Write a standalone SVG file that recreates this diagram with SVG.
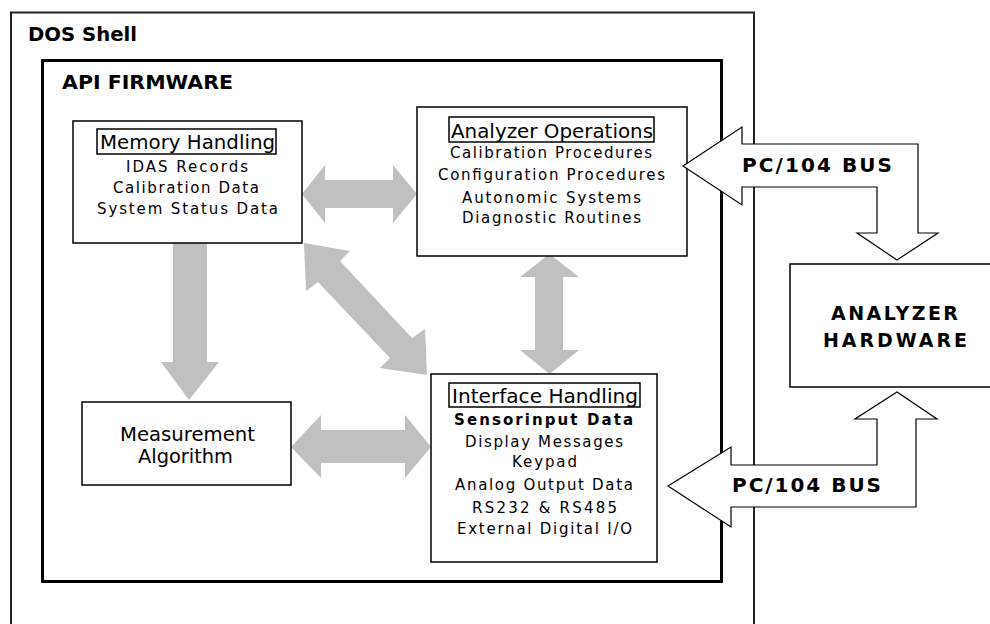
<svg xmlns="http://www.w3.org/2000/svg" width="990" height="624" viewBox="0 0 990 624">
<style>
.box{fill:#fff;stroke:#000;stroke-width:1.5}
.t{font-family:"DejaVu Sans",Verdana,sans-serif;fill:#000;text-anchor:start}
.s{font-size:15px}
.h{font-size:20px}
.b{font-weight:bold}
.g{fill:#c0c0c0;stroke:none}
.bus{fill:#fff;stroke:#000;stroke-width:1.2}
</style>
<rect width="990" height="624" fill="#fff"/>
<g id="dos-shell">
<rect x="11" y="12.5" width="743" height="700" fill="#fff" stroke="#222" stroke-width="2"/>
<text class="t b" x="28" y="41" font-size="20" textLength="109" lengthAdjust="spacingAndGlyphs">DOS Shell</text>
</g>
<g id="api-firmware">
<rect x="42.5" y="60.5" width="679" height="521" fill="#fff" stroke="#000" stroke-width="3"/>
<text class="t b" x="62" y="89" font-size="19" textLength="171" lengthAdjust="spacingAndGlyphs">API FIRMWARE</text>
</g>
<g id="connectors">
<polygon class="g" points="302,194 325,165 325,180 393,180 393,165 417,194 393,223 393,208 325,208 325,223"/>
<polygon class="g" points="291,447 321,415 321,430 405,430 405,415 431,447 405,478 405,463 321,463 321,478"/>
<polygon class="g" points="173,243 207,243 207,362 219,362 189,400 161,362 173,362"/>
<polygon class="g" points="549.5,254 579,277 563,277 563,350 579,350 549.5,374 520,350 535,350 535,277 520,277"/>
<polygon class="g" points="304,243 350,251 340,261 412,338 425,329 427,375 380,368 390,358 318,282 306,291"/>
</g>
<g id="memory-handling">
<rect class="box" x="73" y="121" width="229" height="122"/>
<rect x="97" y="129" width="179" height="25" fill="none" stroke="#000" stroke-width="1.5"/>
<text class="t" x="100" y="149" font-size="20" textLength="175" lengthAdjust="spacingAndGlyphs">Memory Handling</text>
<text class="t s" x="126" y="172" textLength="122">IDAS Records</text>
<text class="t s" x="113" y="193" textLength="146">Calibration Data</text>
<text class="t s" x="97" y="214" textLength="181">System Status Data</text>
</g>
<g id="analyzer-operations">
<rect class="box" x="417" y="107" width="270" height="149"/>
<rect x="449" y="117" width="205" height="25" fill="none" stroke="#000" stroke-width="1.5"/>
<text class="t" x="451" y="138" font-size="20" textLength="202" lengthAdjust="spacingAndGlyphs">Analyzer Operations</text>
<text class="t s" x="450" y="158" textLength="202">Calibration Procedures</text>
<text class="t s" x="438" y="180" textLength="227">Configuration Procedures</text>
<text class="t s" x="462" y="203" textLength="179">Autonomic Systems</text>
<text class="t s" x="462" y="223" textLength="179">Diagnostic Routines</text>
</g>
<g id="measurement-algorithm">
<rect class="box" x="82" y="402" width="209" height="83"/>
<text class="t" x="120" y="441" font-size="19" textLength="135" lengthAdjust="spacingAndGlyphs">Measurement</text>
<text class="t" x="138" y="463" font-size="19" textLength="95" lengthAdjust="spacingAndGlyphs">Algorithm</text>
</g>
<g id="interface-handling">
<rect class="box" x="431" y="374" width="226" height="188"/>
<rect x="449" y="383" width="191" height="24" fill="none" stroke="#000" stroke-width="1.5"/>
<text class="t" x="452" y="403" font-size="20" textLength="186" lengthAdjust="spacingAndGlyphs">Interface Handling</text>
<text class="t s b" x="454" y="425" textLength="179">Sensorinput Data</text>
<text class="t s" x="465" y="447" textLength="158">Display Messages</text>
<text class="t s" x="512" y="467" textLength="65">Keypad</text>
<text class="t s" x="455" y="490" textLength="178">Analog Output Data</text>
<text class="t s" x="472" y="513" textLength="145">RS232 &amp; RS485</text>
<text class="t s" x="457" y="534" textLength="175">External Digital I/O</text>
</g>
<g id="analyzer-hardware">
<rect class="box" x="790" y="264" width="220" height="123"/>
<text class="t b" x="831" y="320" font-size="19" textLength="127">ANALYZER</text>
<text class="t b" x="823" y="347" font-size="19" textLength="144">HARDWARE</text>
</g>
<g id="bus-top">
<polygon class="bus" points="683,166 742,127 742,144 918,144 918,233 938,233 897,260 857,233 877,233 877,187 742,187 742,205"/>
<text class="t b" x="742" y="172" font-size="20" textLength="150">PC/104 BUS</text>
</g>
<g id="bus-bottom">
<polygon class="bus" points="668,486 731,447 731,465 877,465 877,419 855,419 897,392 937,419 916,419 916,507 731,507 731,527"/>
<text class="t b" x="732" y="492" font-size="20" textLength="149">PC/104 BUS</text>
</g>
</svg>
